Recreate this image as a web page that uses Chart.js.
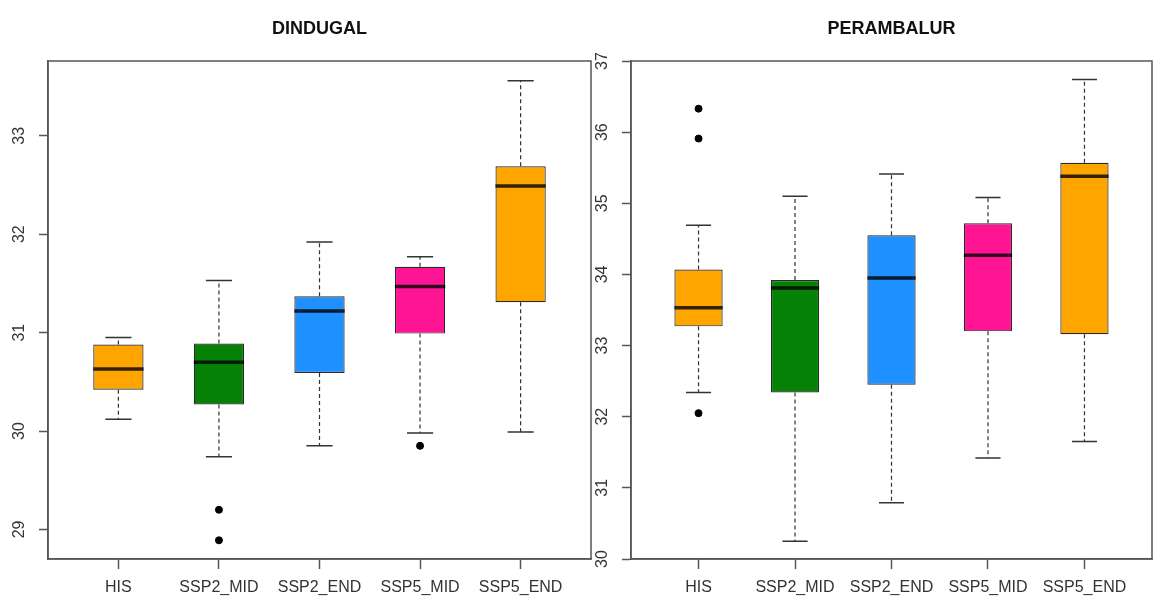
<!DOCTYPE html>
<html>
<head>
<meta charset="utf-8">
<script src="https://cdn.jsdelivr.net/npm/chart.js@4.4.0/dist/chart.umd.min.js"></script>
<style>
  body { margin: 0; background: #fff; }
  #wrap { position: relative; width: 1157px; height: 604px; overflow: hidden; }
  canvas { position: absolute; top: 0; }
  #left { left: 0; }
  #right { left: 580px; }
</style>
</head>
<body>
<div id="wrap">
  <canvas id="left" width="596" height="604"></canvas>
  <canvas id="right" width="577" height="604"></canvas>
</div>
<script>
// categories along the x axis
const categories = ['HIS', 'SSP2_MID', 'SSP2_END', 'SSP5_MID', 'SSP5_END'];
const boxColors = ['#FFA500', '#058205', '#1E90FF', '#FF1493', '#FFA500'];

// DINDUGAL box stats
const dinLow = [30.12, 29.74, 29.85, 29.98, 29.99];
const dinQ1 = [30.42, 30.27, 30.59, 30.99, 31.31];
const dinMed = [30.63, 30.70, 31.22, 31.47, 32.49];
const dinQ3 = [30.88, 30.89, 31.37, 31.67, 32.69];
const dinHigh = [30.95, 31.53, 31.92, 31.77, 33.56];
const dinOut = [[], [29.20, 28.89], [], [29.85], []];
const dinTicks = [29, 30, 31, 32, 33];
const dinRange = [28.70, 33.76];

// PERAMBALUR box stats
const perLow = [32.34, 30.25, 30.79, 31.42, 31.65];
const perQ1 = [33.27, 32.34, 32.45, 33.20, 33.16];
const perMed = [33.53, 33.81, 33.95, 34.27, 35.38];
const perQ3 = [34.07, 33.92, 34.55, 34.72, 35.57];
const perHigh = [34.69, 35.10, 35.41, 35.08, 36.74];
const perOut = [[36.33, 35.91, 32.05], [], [], [], []];
const perTicks = [30, 31, 32, 33, 34, 35, 36, 37];
const perRange = [30, 37];

Chart.defaults.font.family = '"Liberation Sans", Arial, sans-serif';

// turns a list of [x1,y1,x2,y2] into line points with gaps between segments
function segs(list) {
    let pts = [];
    list.forEach(s => {
        pts.push({x: s[0], y: s[1]}, {x: s[2], y: s[3]}, {x: s[0], y: null});
    });
    return pts;
}

// box around the plot area, like R does
const frame = {
    id: 'frame',
    afterDatasetsDraw(chart) {
        const a = chart.chartArea;
        const c = chart.ctx;
        c.save();
        c.strokeStyle = '#555';
        c.lineWidth = 1.5;
        c.strokeRect(a.left, a.top, a.right - a.left, a.bottom - a.top);
        c.restore();
    }
};

function drawPanel(id, title, low, q1, med, q3, high, out, yTicks, yRange, axisWidth, padRight) {
    const xs = categories.map((c, i) => i + 1);

    let whiskers = [], caps = [], medians = [], outliers = [];
    xs.forEach((x, i) => {
        whiskers.push([x, q3[i], x, high[i]], [x, q1[i], x, low[i]]);
        caps.push([x - 0.13, high[i], x + 0.13, high[i]], [x - 0.13, low[i], x + 0.13, low[i]]);
        medians.push([x - 0.25, med[i], x + 0.25, med[i]]);
        out[i].forEach(v => outliers.push({x: x, y: v}));
    });

    return new Chart(document.getElementById(id), {
        type: 'bar',
        data: {
            datasets: [
                {
                    type: 'bar',
                    data: xs.map((x, i) => ({x: x, y: [q1[i], q3[i]]})),
                    backgroundColor: boxColors,
                    borderColor: '#2a2a2a',
                    borderWidth: 1.2,
                    borderSkipped: false,
                    categoryPercentage: 1,
                    barPercentage: 0.5,
                    order: 2
                },
                {
                    type: 'line',
                    data: segs(whiskers),
                    borderColor: '#333',
                    borderWidth: 1.2,
                    borderDash: [4, 3],
                    pointRadius: 0,
                    order: 3
                },
                {
                    type: 'line',
                    data: segs(caps),
                    borderColor: '#333',
                    borderWidth: 1.5,
                    pointRadius: 0,
                    order: 3
                },
                {
                    type: 'line',
                    data: segs(medians),
                    borderColor: 'rgba(0,0,0,0.8)',
                    borderWidth: 3.5,
                    pointRadius: 0,
                    order: 0
                },
                {
                    type: 'line',
                    data: outliers,
                    showLine: false,
                    pointRadius: 3.5,
                    pointBackgroundColor: '#000',
                    pointBorderColor: '#000',
                    order: 0
                }
            ]
        },
        options: {
            responsive: false,
            animation: false,
            layout: {padding: {left: 0, right: padRight, top: 0, bottom: 0}},
            plugins: {
                legend: {display: false},
                tooltip: {enabled: false},
                title: {
                    display: true,
                    text: title,
                    fullSize: false,
                    color: '#111',
                    font: {size: 18, weight: 'bold'},
                    padding: {top: 18, bottom: 21.4}
                }
            },
            scales: {
                x: {
                    type: 'linear',
                    min: 0.3,
                    max: 5.7,
                    offset: false,
                    grid: {drawOnChartArea: false, drawTicks: true, tickLength: 10, tickColor: '#555', tickWidth: 1.5, offset: false},
                    border: {display: true, color: '#555', width: 1.5},
                    ticks: {
                        autoSkip: false, maxRotation: 0, minRotation: 0, padding: 9.4,
                        color: '#333', font: {size: 16},
                        callback: v => categories[v - 1]
                    },
                    afterBuildTicks: s => { s.ticks = xs.map(v => ({value: v})); },
                    afterFit: s => { s.height = 45; }
                },
                y: {
                    type: 'linear',
                    min: yRange[0],
                    max: yRange[1],
                    grid: {drawOnChartArea: false, drawTicks: true, tickLength: 9, tickColor: '#555', tickWidth: 1.5},
                    border: {display: true, color: '#555', width: 1.5},
                    ticks: {
                        minRotation: 90, maxRotation: 90, crossAlign: 'center', padding: 10.1,
                        color: '#333', font: {size: 16}
                    },
                    afterBuildTicks: s => { s.ticks = yTicks.map(v => ({value: v})); },
                    afterFit: s => { s.width = axisWidth; }
                }
            }
        },
        plugins: [frame]
    });
}

drawPanel('left', 'DINDUGAL', dinLow, dinQ1, dinMed, dinQ3, dinHigh, dinOut, dinTicks, dinRange, 48, 4);
drawPanel('right', 'PERAMBALUR', perLow, perQ1, perMed, perQ3, perHigh, perOut, perTicks, perRange, 51, 1);
</script>
</body>
</html>
